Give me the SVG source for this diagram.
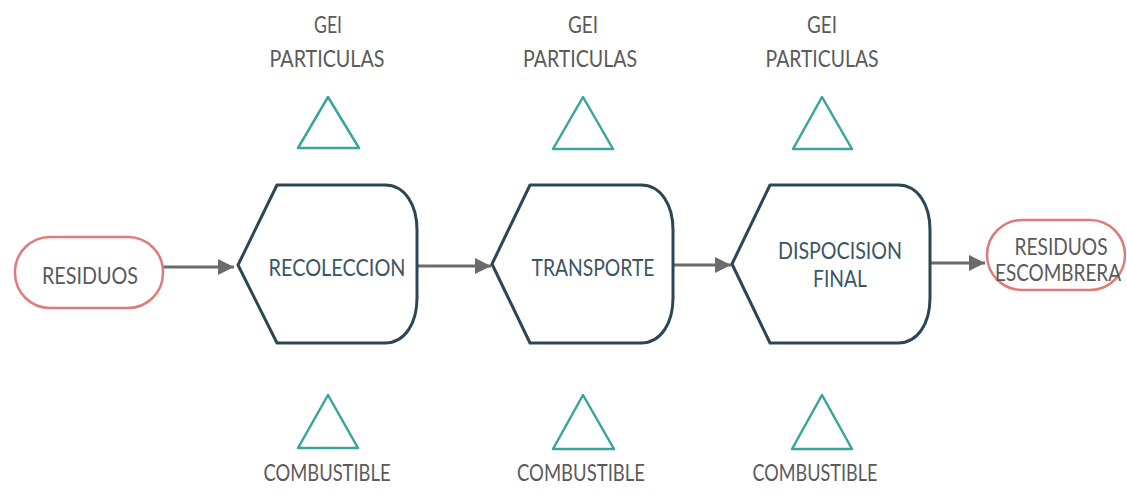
<svg xmlns="http://www.w3.org/2000/svg" width="1127" height="495" viewBox="0 0 1127 495">
  <style>
    .lbl { font-family: Lato, "Liberation Sans", sans-serif; font-size: 23px; fill: #5a5a5a; text-anchor: middle; }
    .proc-text { font-family: Lato, "Liberation Sans", sans-serif; font-size: 23px; fill: #3b5566; text-anchor: middle; }
    .proc { fill: #ffffff; stroke: #2c4656; stroke-width: 3; stroke-linejoin: round; }
    .term { fill: #ffffff; stroke: #e07b7b; stroke-width: 2.5; }
    .tri { fill: none; stroke: #3aa59b; stroke-width: 2.5; stroke-linejoin: round; }
    .link { fill: none; stroke: #6b6b6b; stroke-width: 3; }
  </style>
  <defs>
    <marker id="head" viewBox="0 0 10 10" refX="10" refY="5" markerWidth="5.5" markerHeight="5.5" orient="auto" markerUnits="strokeWidth">
      <path d="M0,0 L10,5 L0,10 Z" fill="#6b6b6b"/>
    </marker>
  </defs>
  <rect width="1127" height="495" fill="#ffffff"/>

  <!-- connectors -->
  <g id="connectors">
    <line class="link" x1="163" y1="267" x2="234" y2="267" marker-end="url(#head)"/>
    <line class="link" x1="417" y1="266" x2="491" y2="266" marker-end="url(#head)"/>
    <line class="link" x1="673" y1="265" x2="731" y2="265" marker-end="url(#head)"/>
    <line class="link" x1="930" y1="263" x2="985" y2="263" marker-end="url(#head)"/>
  </g>

  <!-- input -->
  <g id="residuos">
    <rect class="term" x="15" y="237" width="148" height="71" rx="35" ry="35"/>
    <text class="lbl" x="90" y="284" textLength="96" lengthAdjust="spacingAndGlyphs">RESIDUOS</text>
  </g>

  <!-- process stages -->
  <g id="recoleccion">
    <path class="proc" d="M238,265 L277,185 L385,185 C405,185 417,205 417,230 L417,298 C417,323 405,343 385,343 L277,343 Z"/>
    <text class="proc-text" x="337" y="276" textLength="137" lengthAdjust="spacingAndGlyphs">RECOLECCION</text>
  </g>
  <g id="transporte">
    <path class="proc" d="M492,264 L530,185 L641,185 C661,185 673,205 673,230 L673,298 C673,323 661,343 641,343 L530,343 Z"/>
    <text class="proc-text" x="593" y="276" textLength="123" lengthAdjust="spacingAndGlyphs">TRANSPORTE</text>
  </g>
  <g id="disposicion">
    <path class="proc" d="M732,264 L770,185 L898,185 C918,185 930,205 930,230 L930,298 C930,323 918,343 898,343 L770,343 Z"/>
    <text class="proc-text" x="840" y="259" textLength="124" lengthAdjust="spacingAndGlyphs">DISPOCISION</text>
    <text class="proc-text" x="840" y="287" textLength="54" lengthAdjust="spacingAndGlyphs">FINAL</text>
  </g>

  <!-- output -->
  <g id="escombrera">
    <rect class="term" x="987" y="220" width="138" height="70" rx="35" ry="35"/>
    <text class="lbl" x="1061" y="255" textLength="93" lengthAdjust="spacingAndGlyphs">RESIDUOS</text>
    <text class="lbl" x="1058" y="281" textLength="126" lengthAdjust="spacingAndGlyphs">ESCOMBRERA</text>
  </g>

  <!-- emissions above each stage -->
  <g id="emisiones-1">
    <text class="lbl" x="328" y="33" textLength="28" lengthAdjust="spacingAndGlyphs">GEI</text>
    <text class="lbl" x="327" y="67" textLength="115" lengthAdjust="spacingAndGlyphs">PARTICULAS</text>
    <polygon class="tri" points="328,97 298,148 359,148"/>
  </g>
  <g id="emisiones-2">
    <text class="lbl" x="583" y="33" textLength="30" lengthAdjust="spacingAndGlyphs">GEI</text>
    <text class="lbl" x="580" y="67" textLength="114" lengthAdjust="spacingAndGlyphs">PARTICULAS</text>
    <polygon class="tri" points="583,97 553,149 613,149"/>
  </g>
  <g id="emisiones-3">
    <text class="lbl" x="822" y="33" textLength="30" lengthAdjust="spacingAndGlyphs">GEI</text>
    <text class="lbl" x="822" y="67" textLength="113" lengthAdjust="spacingAndGlyphs">PARTICULAS</text>
    <polygon class="tri" points="822,97 793,149 852,149"/>
  </g>

  <!-- fuel inputs below each stage -->
  <g id="combustible-1">
    <polygon class="tri" points="328,395 298,448 358,448"/>
    <text class="lbl" x="327" y="481" textLength="127" lengthAdjust="spacingAndGlyphs">COMBUSTIBLE</text>
  </g>
  <g id="combustible-2">
    <polygon class="tri" points="583,395 553,449 614,449"/>
    <text class="lbl" x="581" y="481" textLength="128" lengthAdjust="spacingAndGlyphs">COMBUSTIBLE</text>
  </g>
  <g id="combustible-3">
    <polygon class="tri" points="822,395 792,449 852,449"/>
    <text class="lbl" x="815" y="481" textLength="125" lengthAdjust="spacingAndGlyphs">COMBUSTIBLE</text>
  </g>
</svg>
